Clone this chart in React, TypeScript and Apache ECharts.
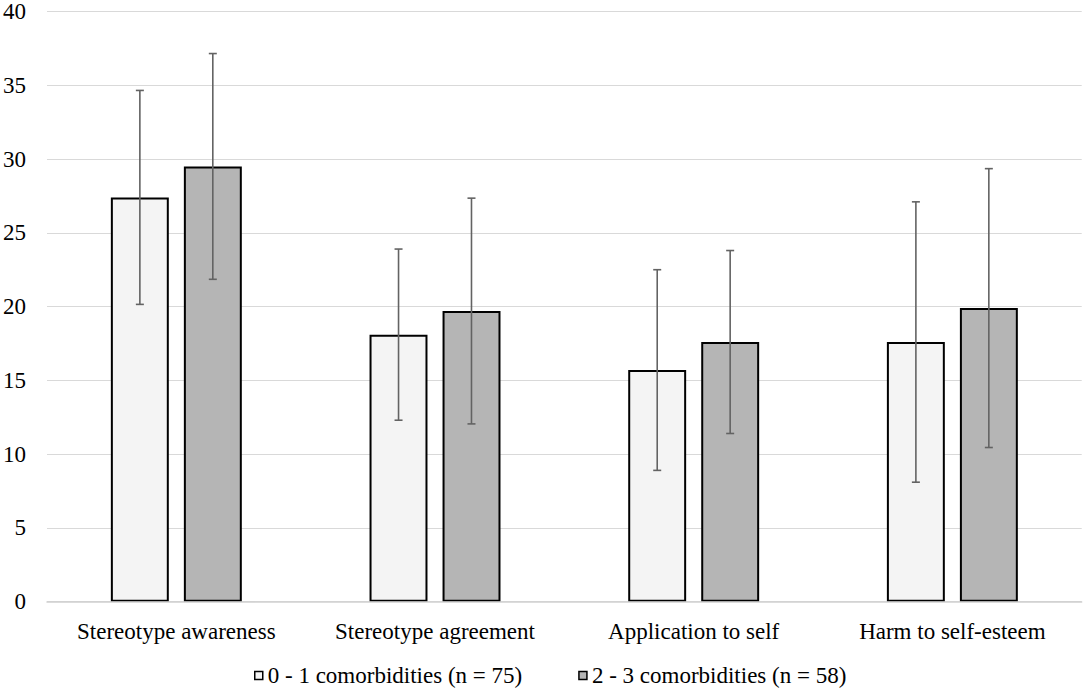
import React, { useEffect, useRef } from "react";
import * as echarts from "echarts";

const categories = [
  "Stereotype awareness",
  "Stereotype agreement",
  "Application to self",
  "Harm to self-esteem",
];
const seriesNames = ["0 - 1 comorbidities (n = 75)", "2 - 3 comorbidities (n = 58)"];
const lowMeans = [27.4, 18.1, 15.7, 17.6];
const lowSd = [7.25, 5.8, 6.8, 9.5];
const highMeans = [29.5, 19.7, 17.6, 19.9];
const highSd = [7.65, 7.65, 6.2, 9.45];
const yTicks = { min: 0, max: 40, interval: 5 };

const FONT = "'Liberation Serif', 'Times New Roman', serif";

function errorSeries(name: string, means: number[], sds: number[], offsetFrac: number) {
  return {
    name,
    type: "custom",
    z: 5,
    silent: true,
    data: means.map((m, i) => [i, m - sds[i], m + sds[i]]),
    encode: { x: 0, y: [1, 2] },
    renderItem: (params: any, api: any) => {
      const idx = api.value(0);
      const lo = api.value(1);
      const hi = api.value(2);
      const band = api.size([1, 0])[0];
      const pLo = api.coord([idx, lo]);
      const pHi = api.coord([idx, hi]);
      const cx = pLo[0] + offsetFrac * band;
      const half = 4;
      const style = { stroke: "#636363", lineWidth: 1.6 };
      return {
        type: "group",
        children: [
          { type: "line", shape: { x1: cx, y1: pLo[1], x2: cx, y2: pHi[1] }, style },
          { type: "line", shape: { x1: cx - half, y1: pLo[1], x2: cx + half, y2: pLo[1] }, style },
          { type: "line", shape: { x1: cx - half, y1: pHi[1], x2: cx + half, y2: pHi[1] }, style },
        ],
      };
    },
  };
}

export default function App() {
  const ref = useRef<HTMLDivElement>(null);
  useEffect(() => {
    document.body.style.margin = "0";
    const chart = echarts.init(ref.current!, undefined, { renderer: "svg" });
    chart.setOption({
      animation: false,
      backgroundColor: "#ffffff",
      grid: { left: 46.4, right: 2.3, top: 11.3, bottom: 88.3, containLabel: false },
      legend: {
        data: seriesNames,
        left: 249,
        top: 659,
        itemWidth: 8,
        itemHeight: 8,
        itemGap: 56,
        icon: "rect",
        itemStyle: { borderColor: "#000000", borderWidth: 1.5 },
        textStyle: { fontFamily: FONT, fontSize: 23, color: "#000000" },
      },
      xAxis: {
        type: "category",
        data: categories,
        z: 4,
        axisTick: { show: false },
        axisLine: { lineStyle: { color: "#d0d0d0", width: 1.5 } },
        axisLabel: {
          interval: 0,
          hideOverlap: false,
          fontFamily: FONT,
          fontSize: 23,
          color: "#000000",
          margin: 18,
        },
      },
      yAxis: {
        type: "value",
        min: yTicks.min,
        max: yTicks.max,
        interval: yTicks.interval,
        axisLine: { show: false },
        axisTick: { show: false },
        splitLine: { lineStyle: { color: "#d9d9d9", width: 1.2 } },
        axisLabel: { fontFamily: FONT, fontSize: 23, color: "#000000", margin: 21 },
      },
      series: [
        {
          name: seriesNames[0],
          type: "bar",
          data: lowMeans,
          barWidth: "22.4%",
          barGap: "26%",
          itemStyle: { color: "#f4f4f4", borderColor: "#000000", borderWidth: 2 },
        },
        {
          name: seriesNames[1],
          type: "bar",
          data: highMeans,
          barWidth: "22.4%",
          barGap: "26%",
          itemStyle: { color: "#b5b5b5", borderColor: "#000000", borderWidth: 2 },
        },
        errorSeries("err-low", lowMeans, lowSd, -0.141),
        errorSeries("err-high", highMeans, highSd, 0.141),
      ],
    });
    return () => chart.dispose();
  }, []);
  return <div ref={ref} style={{ width: 1084, height: 690 }} />;
}
